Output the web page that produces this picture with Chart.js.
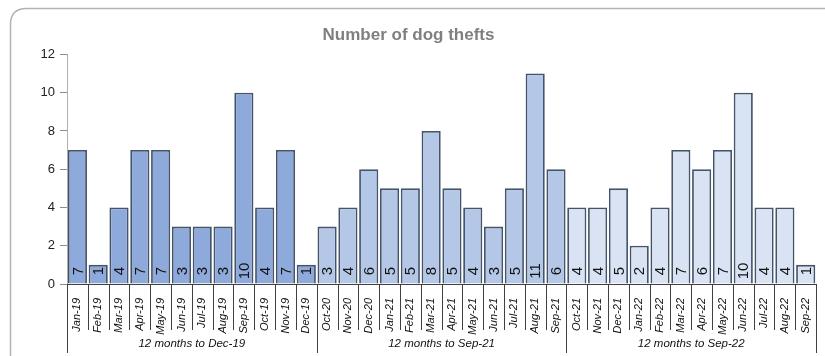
<!DOCTYPE html>
<html>
<head>
<meta charset="utf-8">
<script src="https://cdn.jsdelivr.net/npm/chart.js@4"></script>
<style>
  html, body { margin: 0; padding: 0; background: #fff; }
  #wrap { width: 825px; height: 356px; }
</style>
</head>
<body>
<div id="wrap"><canvas id="thefts"></canvas></div>
<script>
const months = [
  'Jan-19','Feb-19','Mar-19','Apr-19','May-19','Jun-19','Jul-19','Aug-19','Sep-19','Oct-19','Nov-19','Dec-19',
  'Oct-20','Nov-20','Dec-20','Jan-21','Feb-21','Mar-21','Apr-21','May-21','Jun-21','Jul-21','Aug-21','Sep-21',
  'Oct-21','Nov-21','Dec-21','Jan-22','Feb-22','Mar-22','Apr-22','May-22','Jun-22','Jul-22','Aug-22','Sep-22'
];
const thefts = [
  7, 1, 4, 7, 7, 3, 3, 3, 10, 4, 7, 1,
  3, 4, 6, 5, 5, 8, 5, 4, 3, 5, 11, 6,
  4, 4, 5, 2, 4, 7, 6, 7, 10, 4, 4, 1
];
const groups = ['12 months to Dec-19', '12 months to Sep-21', '12 months to Sep-22'];
const groupSize = 12;
const groupColors = ['#8eaadb', '#b4c7e7', '#dae3f3'];

const barColors = thefts.map((v, i) => groupColors[Math.floor(i / groupSize)]);

// frame, value labels, category separators and group labels
const extras = {
  id: 'extras',
  beforeDraw(chart) {
    const ctx = chart.ctx;
    ctx.save();
    ctx.strokeStyle = '#b3b3b3';
    ctx.lineWidth = 1.5;
    const x = 10.5, y = 8.5, w = 840, h = 360, r = 16;
    ctx.beginPath();
    ctx.moveTo(x + r, y);
    ctx.lineTo(x + w, y);
    ctx.moveTo(x, y + h);
    ctx.lineTo(x, y + r);
    ctx.quadraticCurveTo(x, y, x + r, y);
    ctx.stroke();
    ctx.restore();
  },
  afterDraw(chart) {
    const ctx = chart.ctx;
    const area = chart.chartArea;
    const meta = chart.getDatasetMeta(0);
    ctx.save();
    // values inside the bars
    ctx.fillStyle = '#111';
    ctx.font = '15px "Liberation Sans", Arial, sans-serif';
    ctx.textAlign = 'center';
    ctx.textBaseline = 'middle';
    meta.data.forEach((bar, i) => {
      ctx.save();
      ctx.translate(bar.x, area.bottom - 13);
      ctx.rotate(-Math.PI / 2);
      ctx.fillText(String(thefts[i]), 0, 1);
      ctx.restore();
    });
    // separators
    const step = (area.right - area.left) / months.length;
    ctx.strokeStyle = '#404040';
    ctx.lineWidth = 1;
    for (let i = 0; i <= months.length; i++) {
      const lx = Math.round(area.left + i * step) + 0.5;
      const isGroup = i % groupSize === 0;
      ctx.beginPath();
      ctx.moveTo(lx, area.bottom);
      ctx.lineTo(lx, isGroup ? 353 : 330);
      ctx.stroke();
    }
    // group labels
    ctx.fillStyle = '#111';
    ctx.font = 'italic 11.5px "Liberation Sans", Arial, sans-serif';
    ctx.textBaseline = 'middle';
    groups.forEach((g, k) => {
      const cx = area.left + (k * groupSize + groupSize / 2) * step;
      ctx.fillText(g, cx, 344);
    });
    ctx.restore();
  }
};

new Chart(document.getElementById('thefts'), {
  type: 'bar',
  data: {
    labels: months,
    datasets: [{
      label: 'Dog thefts',
      data: thefts,
      backgroundColor: barColors,
      borderColor: '#44546a',
      borderWidth: 1.8,
      barPercentage: 0.92,
      categoryPercentage: 1
    }]
  },
  options: {
    responsive: true,
    maintainAspectRatio: false,
    animation: false,
    layout: { padding: { left: 0, right: 8, top: 0, bottom: 0 } },
    plugins: {
      legend: { display: false },
      tooltip: { enabled: false },
      title: {
        display: true,
        text: 'Number of dog thefts',
        color: '#7f7f7f',
        font: { family: '"Liberation Sans", Arial, sans-serif', size: 17, weight: 'bold' },
        padding: { top: 25, bottom: 9 }
      }
    },
    scales: {
      x: {
        grid: { display: false },
        border: { display: true, color: '#404040', width: 1 },
        ticks: {
          color: '#111',
          minRotation: 90,
          maxRotation: 90,
          autoSkip: false,
          padding: 6,
          font: { family: '"Liberation Sans", Arial, sans-serif', size: 11, style: 'italic' }
        },
        afterFit(scale) { scale.height = 72; }
      },
      y: {
        min: 0,
        max: 12,
        ticks: {
          stepSize: 2,
          color: '#222',
          padding: 5,
          font: { family: '"Liberation Sans", Arial, sans-serif', size: 13 }
        },
        grid: { drawOnChartArea: false, drawTicks: true, tickLength: 7, color: '#8c8c8c' },
        border: { display: true, color: '#b0b0b0', width: 1 },
        afterFit(scale) { scale.width = 67; }
      }
    }
  },
  plugins: [extras]
});
</script>
</body>
</html>
